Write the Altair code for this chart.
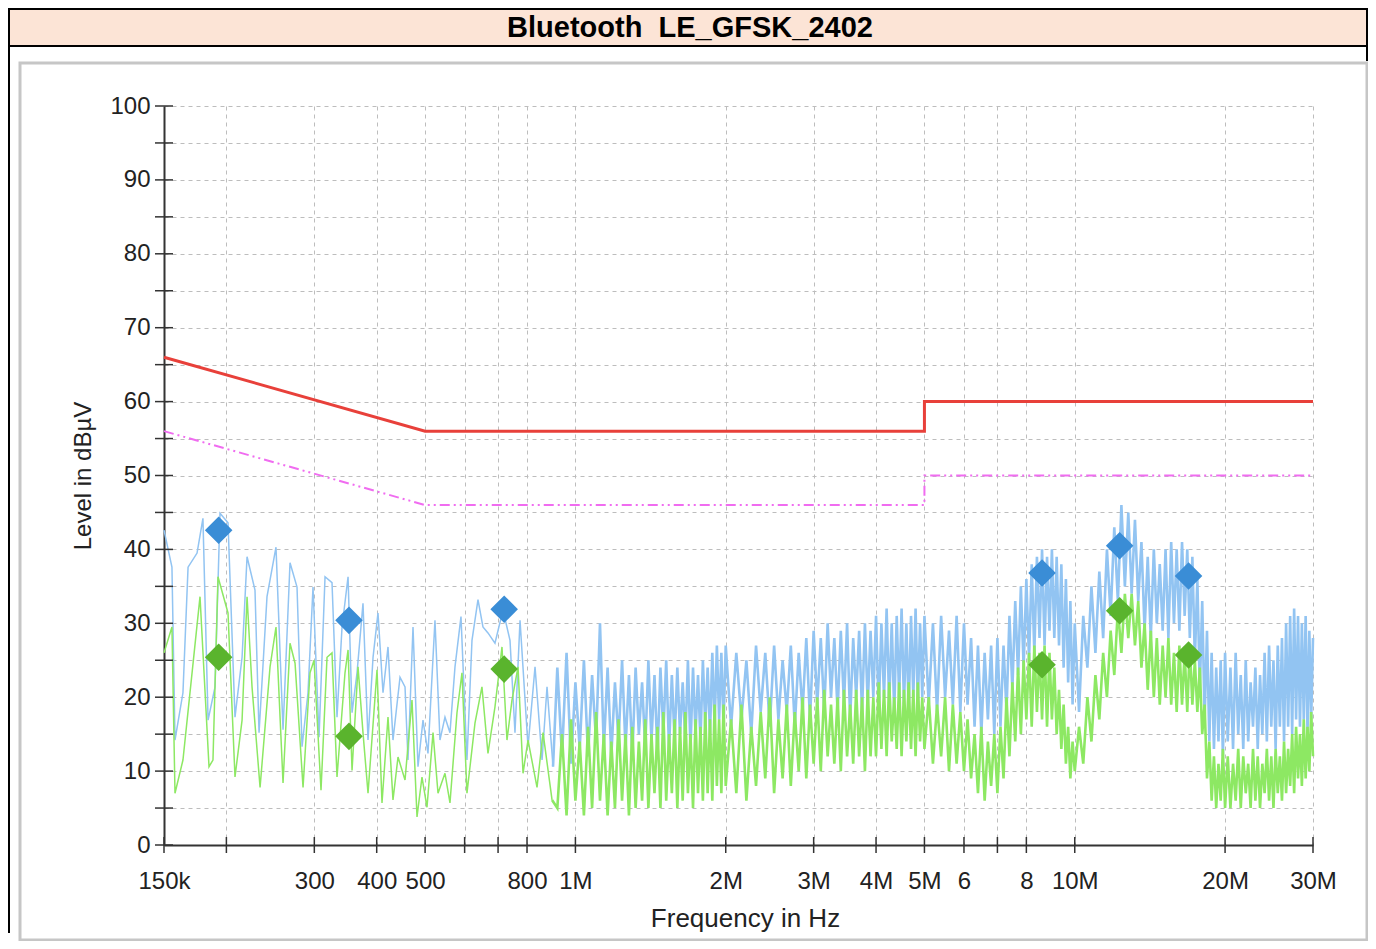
import altair as alt
import pandas as pd

FONT = "Liberation Sans"

# ---------------- limit lines (frequency in MHz, level in dBuV) ----------------
qp_freq = [0.15, 0.5, 5.0, 5.0, 30.0]
qp_level = [66, 56, 56, 60, 60]
av_freq = [0.15, 0.5, 5.0, 5.0, 30.0]
av_level = [56, 46, 46, 50, 50]

# ---------------- final measurement markers ----------------
mark_freq = [0.193, 0.352, 0.720, 8.6, 12.3, 16.9]
mark_peak_level = [42.6, 30.4, 31.9, 36.8, 40.5, 36.4]
mark_avg_level = [25.4, 14.7, 23.8, 24.4, 31.7, 25.7]

# ---------------- low-frequency part of the traces ----------------
blue_low_freq = [0.150, 0.1556, 0.1578, 0.1637, 0.1676, 0.1747, 0.1795, 0.1838, 0.1898, 0.1942,
                 0.2015, 0.2081, 0.2150, 0.2200, 0.2282, 0.2325, 0.2412, 0.2514, 0.2597, 0.2682,
                 0.2770, 0.2835, 0.2914, 0.2982, 0.3066, 0.3152, 0.3255, 0.3331, 0.3409, 0.3505,
                 0.3570, 0.3653, 0.3755, 0.3843, 0.3933, 0.4024, 0.4118, 0.4214, 0.4312, 0.4454,
                 0.4558, 0.4621, 0.4729, 0.4839, 0.4952, 0.5067, 0.5233, 0.5355, 0.5480, 0.5608,
                 0.5739, 0.5900, 0.6065, 0.6207, 0.6381, 0.6529, 0.6682, 0.6901, 0.7161, 0.7396,
                 0.7568, 0.7746, 0.8037, 0.8301, 0.8574, 0.8773, 0.9019]
blue_low_level = [42.6, 37.6, 14.2, 20.6, 37.6, 39.5, 44.2, 16.9, 21.4, 44.9,
                  43.6, 17.3, 25.4, 39.0, 34.5, 15.2, 33.6, 40.3, 15.6, 38.2,
                  34.9, 13.3, 20.6, 34.9, 14.6, 36.3, 35.5, 17.3, 29.5, 36.3,
                  17.9, 23.3, 32.7, 14.2, 25.4, 31.4, 20.6, 26.8, 14.2, 22.7,
                  21.4, 11.5, 29.5, 10.6, 16.9, 12.4, 30.4, 14.2, 17.3, 15.2,
                  24.1, 30.9, 11.5, 27.7, 33.2, 29.5, 28.7, 27.3, 31.8, 27.7,
                  15.2, 30.4, 13.3, 24.1, 11.5, 21.4, 10.6]

green_low_freq = [0.150, 0.1556, 0.1578, 0.1637, 0.1771, 0.1846, 0.1880, 0.1924, 0.2015, 0.2081,
                  0.2150, 0.2200, 0.2251, 0.2336, 0.2446, 0.2514, 0.2597, 0.2682, 0.2745, 0.2848,
                  0.2941, 0.2996, 0.3094, 0.3181, 0.3255, 0.3331, 0.3456, 0.3505, 0.3570, 0.3670,
                  0.3755, 0.3843, 0.4006, 0.4099, 0.4214, 0.4312, 0.4413, 0.4558, 0.4707, 0.4817,
                  0.4929, 0.5044, 0.5186, 0.5307, 0.5480, 0.5608, 0.5792, 0.5927, 0.6065, 0.6293,
                  0.6499, 0.6682, 0.6901, 0.7128, 0.7294, 0.7464, 0.7675, 0.7854, 0.8037, 0.8378,
                  0.8613, 0.8978]
green_low_level = [26.0, 29.5, 7.0, 11.5, 33.6, 10.6, 11.5, 36.3, 31.4, 9.2,
                   16.9, 33.6, 21.4, 7.8, 24.1, 29.5, 8.4, 27.3, 24.6, 7.8,
                   23.3, 25.0, 7.4, 25.4, 26.0, 9.2, 23.3, 26.4, 10.1, 24.1,
                   15.2, 7.0, 23.7, 5.7, 17.3, 6.1, 11.9, 8.8, 19.6, 3.8,
                   9.2, 5.1, 15.2, 7.0, 9.7, 5.7, 17.9, 23.3, 7.0, 16.5,
                   21.4, 12.4, 18.7, 26.8, 14.2, 19.6, 24.1, 9.7, 14.2, 7.8,
                   15.2, 6.1]

# ---------------- dense sweep part (shared frequency grid, MHz) ----------------
sweep_freq_a = [0.92, 0.94, 0.96, 0.98, 1.00, 1.02, 1.04, 1.06, 1.08, 1.10,
                1.12, 1.14, 1.16, 1.18, 1.20, 1.22, 1.24, 1.26, 1.28, 1.30,
                1.32, 1.34, 1.36, 1.38, 1.40, 1.42, 1.44, 1.46, 1.48, 1.50,
                1.52, 1.54, 1.56, 1.58, 1.60, 1.62, 1.64, 1.66, 1.68, 1.70,
                1.72, 1.74, 1.76, 1.78, 1.80, 1.82, 1.84, 1.86, 1.88, 1.90,
                1.92, 1.94, 1.96, 1.98, 2.00]
sweep_freq_b = [2.05, 2.10, 2.15, 2.20, 2.25, 2.30, 2.35, 2.40, 2.45, 2.50,
                2.55, 2.60, 2.65, 2.70, 2.75, 2.80, 2.85, 2.90, 2.95, 3.00,
                3.05, 3.10, 3.15, 3.20, 3.25, 3.30, 3.35, 3.40, 3.45, 3.50,
                3.55, 3.60, 3.65, 3.70, 3.75, 3.80, 3.85, 3.90, 3.95, 4.00,
                4.05, 4.10, 4.15, 4.20, 4.25, 4.30, 4.35, 4.40, 4.45, 4.50,
                4.55, 4.60, 4.65, 4.70, 4.75, 4.80, 4.85, 4.90, 4.95, 5.00]
sweep_freq_c = [5.1, 5.2, 5.3, 5.4, 5.5, 5.6, 5.7, 5.8, 5.9, 6.0,
                6.1, 6.2, 6.3, 6.4, 6.5, 6.6, 6.7, 6.8, 6.9, 7.0,
                7.1, 7.2, 7.3, 7.4, 7.5, 7.6, 7.7, 7.8, 7.9, 8.0,
                8.1, 8.2, 8.3, 8.4, 8.5, 8.6, 8.7, 8.8, 8.9, 9.0,
                9.1, 9.2, 9.3, 9.4, 9.5, 9.6, 9.7, 9.8, 9.9, 10.0]
sweep_freq_d = [10.2, 10.4, 10.6, 10.8, 11.0, 11.2, 11.4, 11.6, 11.8, 12.0,
                12.2, 12.4, 12.6, 12.8, 13.0, 13.2, 13.4, 13.6, 13.8, 14.0,
                14.2, 14.4, 14.6, 14.8, 15.0, 15.2, 15.4, 15.6, 15.8, 16.0,
                16.2, 16.4, 16.6, 16.8, 17.0, 17.2, 17.4, 17.6, 17.8, 18.0,
                18.2, 18.4, 18.6, 18.8, 19.0, 19.2, 19.4, 19.6, 19.8, 20.0]
sweep_freq_e = [20.25, 20.5, 20.75, 21.0, 21.25, 21.5, 21.75, 22.0, 22.25, 22.5,
                22.75, 23.0, 23.25, 23.5, 23.75, 24.0, 24.25, 24.5, 24.75, 25.0,
                25.25, 25.5, 25.75, 26.0, 26.25, 26.5, 26.75, 27.0, 27.25, 27.5,
                27.75, 28.0, 28.25, 28.5, 28.75, 29.0, 29.25, 29.5, 29.75, 30.0]

blue_sweep_a = [24, 12, 26, 11, 22, 13, 25, 12, 23, 14, 30, 13, 24, 12, 22, 14, 25, 13, 23, 12,
                24, 15, 22, 13, 25, 14, 23, 12, 24, 15, 25, 13, 23, 14, 24, 15, 22, 14, 25, 13,
                24, 15, 23, 14, 25, 16, 24, 15, 26, 16, 27, 17, 26, 16, 27]
blue_sweep_b = [16, 26, 17, 25, 15, 27, 18, 26, 16, 27, 17, 25, 18, 27, 16, 26, 18, 28, 17, 29,
                19, 28, 18, 30, 20, 28, 18, 29, 19, 30, 17, 28, 20, 29, 18, 30, 19, 29, 20, 31,
                18, 30, 20, 32, 19, 30, 18, 31, 20, 32, 19, 30, 18, 31, 20, 32, 19, 30, 20, 31]
blue_sweep_c = [19, 30, 18, 31, 20, 29, 19, 31, 18, 30, 19, 28, 16, 27, 15, 26, 17, 27, 15, 28,
                16, 27, 18, 31, 21, 33, 23, 35, 24, 36, 25, 38, 26, 39, 28, 40, 27, 39, 29, 40,
                28, 39, 27, 38, 24, 36, 22, 33, 19, 30]
blue_sweep_d = [18, 31, 24, 35, 26, 37, 28, 40, 31, 43, 33, 46, 35, 45, 34, 44, 33, 41, 29, 39,
                28, 40, 30, 38, 29, 40, 28, 41, 30, 40, 29, 41, 31, 40, 28, 39, 25, 36, 21, 33,
                17, 29, 14, 26, 13, 24, 14, 25, 12, 26]
blue_sweep_e = [14, 24, 13, 26, 15, 23, 13, 25, 14, 22, 16, 24, 13, 23, 15, 26, 14, 27, 16, 25,
                13, 27, 16, 28, 14, 30, 16, 31, 15, 32, 17, 31, 16, 30, 17, 31, 15, 29, 17, 28]

green_sweep_a = [5, 15, 4, 17, 6, 14, 4, 16, 5, 18, 6, 15, 4, 14, 5, 17, 6, 15, 4, 16,
                 5, 14, 6, 17, 5, 15, 7, 16, 5, 18, 6, 15, 7, 17, 5, 16, 6, 18, 7, 15,
                 5, 17, 7, 16, 6, 18, 7, 17, 6, 19, 8, 17, 7, 19, 8]
green_sweep_b = [17, 7, 19, 6, 16, 8, 18, 9, 20, 7, 17, 9, 19, 8, 18, 10, 20, 9, 19, 11,
                 20, 10, 21, 12, 19, 11, 20, 10, 21, 12, 19, 11, 21, 12, 20, 10, 21, 12, 20, 12,
                 22, 13, 21, 12, 22, 14, 20, 13, 22, 12, 21, 14, 22, 13, 21, 12, 22, 14, 20, 13]
green_sweep_c = [20, 11, 19, 12, 20, 10, 19, 11, 18, 10, 17, 9, 15, 7, 16, 6, 14, 8, 15, 7,
                 16, 9, 20, 12, 22, 14, 24, 15, 25, 17, 26, 16, 27, 18, 26, 17, 27, 16, 26, 17,
                 24, 15, 21, 13, 19, 11, 16, 9, 14, 10]
green_sweep_d = [16, 11, 20, 14, 23, 17, 26, 20, 29, 23, 32, 26, 34, 28, 34, 27, 33, 24, 30, 21,
                 29, 20, 28, 19, 27, 20, 28, 19, 26, 18, 27, 19, 26, 18, 27, 19, 25, 18, 24, 15,
                 19, 9, 14, 6, 12, 5, 11, 6, 13, 5]
green_sweep_e = [12, 5, 11, 6, 13, 5, 12, 7, 11, 5, 13, 6, 12, 5, 11, 7, 13, 6, 12, 5,
                 13, 7, 12, 6, 14, 7, 13, 8, 15, 7, 16, 9, 15, 8, 17, 9, 16, 10, 18, 12]

# ---------------- axis ticks ----------------
x_tick_values = [0.15, 0.2, 0.3, 0.4, 0.5, 0.6, 0.7, 0.8, 1, 2, 3, 4, 5, 6, 7, 8, 10, 20, 30]
x_tick_labels = ["150k", "", "300", "400", "500", "", "", "800", "1M", "2M", "3M", "4M", "5M",
                 "6", "", "8", "10M", "20M", "30M"]
y_tick_values = [0, 5, 10, 15, 20, 25, 30, 35, 40, 45, 50, 55, 60, 65, 70, 75, 80, 85, 90, 95, 100]

# ---------------- build tables ----------------
sweep_freq = sweep_freq_a + sweep_freq_b + sweep_freq_c + sweep_freq_d + sweep_freq_e
blue_sweep = blue_sweep_a + blue_sweep_b + blue_sweep_c + blue_sweep_d + blue_sweep_e
green_sweep = green_sweep_a + green_sweep_b + green_sweep_c + green_sweep_d + green_sweep_e

blue_low_df = pd.DataFrame({"f": blue_low_freq, "v": blue_low_level})
green_low_df = pd.DataFrame({"f": green_low_freq, "v": green_low_level})
blue_hi_df = pd.DataFrame({"f": blue_low_freq[-1:] + sweep_freq,
                           "v": blue_low_level[-1:] + blue_sweep})
green_hi_df = pd.DataFrame({"f": green_low_freq[-1:] + sweep_freq,
                            "v": green_low_level[-1:] + green_sweep})
qp_df = pd.DataFrame({"f": qp_freq, "v": qp_level, "i": list(range(len(qp_freq)))})
av_df = pd.DataFrame({"f": av_freq, "v": av_level, "i": list(range(len(av_freq)))})
peak_df = pd.DataFrame({"f": mark_freq, "v": mark_peak_level})
avg_df = pd.DataFrame({"f": mark_freq, "v": mark_avg_level})
xt_df = pd.DataFrame({"f": x_tick_values, "v": [0] * len(x_tick_values)})
yt_df = pd.DataFrame({"v": y_tick_values, "f": [0.15] * len(y_tick_values)})
one = pd.DataFrame({"a": [0]})

W, H = 1149, 739

label_expr = ""
for val, lab in zip(x_tick_values, x_tick_labels):
    label_expr += f"datum.value == {val} ? '{lab}' : "
label_expr += "''"

xscale = alt.Scale(type="log", domain=[0.15, 30], nice=False)
yscale = alt.Scale(domain=[0, 100], nice=False, zero=False)

x_axis = alt.Axis(
    values=x_tick_values, labelExpr=label_expr, title="Frequency in Hz",
    grid=True, gridDash=[4, 4], gridColor="#bdbdbd", gridWidth=1,
    domainColor="#333333", domainWidth=2, ticks=False,
    labelPadding=24, labelFontSize=24, labelFont=FONT, labelColor="#222222",
    labelOverlap=False, labelFlush=False,
    titleFont=FONT, titleFontSize=26, titleFontWeight="normal", titleColor="#222222",
    titleX=581, titleY=73, titleBaseline="middle", titleAlign="center",
)
y_axis = alt.Axis(
    values=y_tick_values, labelExpr="datum.value % 10 === 0 ? datum.label : ''",
    title="Level in dBµV",
    grid=True, gridDash=[4, 4], gridColor="#bdbdbd", gridWidth=1,
    domainColor="#333333", domainWidth=2, ticks=False,
    labelPadding=14, labelFontSize=24, labelFont=FONT, labelColor="#222222",
    labelOverlap=False, labelFlush=False,
    titleFont=FONT, titleFontSize=24, titleFontWeight="normal", titleColor="#222222",
    titleX=-81, titleY=369.5, titleAngle=270, titleBaseline="middle", titleAlign="center",
)


def xy():
    return dict(x=alt.X("f:Q", scale=xscale, axis=x_axis),
                y=alt.Y("v:Q", scale=yscale, axis=y_axis))


# ---------------- data layers ----------------
blue_low = alt.Chart(blue_low_df).mark_line(color="#92C4F2", strokeWidth=1.5).encode(**xy())
blue_hi = alt.Chart(blue_hi_df).mark_line(color="#92C4F2", strokeWidth=2.6).encode(**xy())
green_low = alt.Chart(green_low_df).mark_line(color="#8DE863", strokeWidth=1.5).encode(**xy())
green_hi = alt.Chart(green_hi_df).mark_line(color="#8DE863", strokeWidth=2.6).encode(**xy())
qp_line = alt.Chart(qp_df).mark_line(color="#E8403A", strokeWidth=3).encode(
    order="i:Q", **xy())
av_line = alt.Chart(av_df).mark_line(color="#F06CF0", strokeWidth=2,
                                     strokeDash=[10, 4, 2, 4, 2, 4]).encode(
    order="i:Q", **xy())
peak_pts = alt.Chart(peak_df).mark_point(shape="diamond", filled=True, size=760,
                                         color="#3A8DD6", opacity=1).encode(**xy())
avg_pts = alt.Chart(avg_df).mark_point(shape="diamond", filled=True, size=760,
                                       color="#5AB42D", opacity=1).encode(**xy())
x_ticks = alt.Chart(xt_df).mark_tick(orient="vertical", size=16, thickness=1.5,
                                     color="#333333", opacity=1).encode(**xy())
y_ticks = alt.Chart(yt_df).mark_tick(orient="horizontal", size=18, thickness=1.5,
                                     color="#333333", opacity=1).encode(**xy())

# ---------------- decorations (frame, title bar) ----------------
panel = alt.Chart(one).mark_rect(fill="white", fillOpacity=0, stroke="#c6c6c6", strokeWidth=3).encode(
    x=alt.value(-144), x2=alt.value(1203), y=alt.value(-43), y2=alt.value(834))
title_bar = alt.Chart(one).mark_rect(fill="#FCE4D6", stroke="black", strokeWidth=2).encode(
    x=alt.value(-155), x2=alt.value(1203), y=alt.value(-97), y2=alt.value(-60))
title_text = alt.Chart(one).mark_text(
    text="Bluetooth\u00a0 LE_GFSK_2402", font=FONT, fontSize=29, fontWeight="bold",
    align="center", baseline="middle", color="black").encode(
    x=alt.value(526), y=alt.value(-78))
left_line = alt.Chart(one).mark_rule(color="black", strokeWidth=2).encode(
    x=alt.value(-155), y=alt.value(-60), y2=alt.value(827))
right_line = alt.Chart(one).mark_rule(color="black", strokeWidth=2).encode(
    x=alt.value(1203), y=alt.value(-60), y2=alt.value(-45))

chart = alt.layer(
    blue_low, blue_hi, green_low, green_hi, qp_line,
    av_line, peak_pts, avg_pts, x_ticks, y_ticks,
    panel, title_bar, title_text, left_line, right_line,
).properties(
    width=W, height=H,
    padding={"left": 156, "top": 98, "right": 55, "bottom": 96},
    autosize=alt.AutoSizeParams(type="none"),
    background="white",
).configure_view(strokeWidth=0)

chart.save("out.html", embed_options={"renderer": "svg", "actions": False})
